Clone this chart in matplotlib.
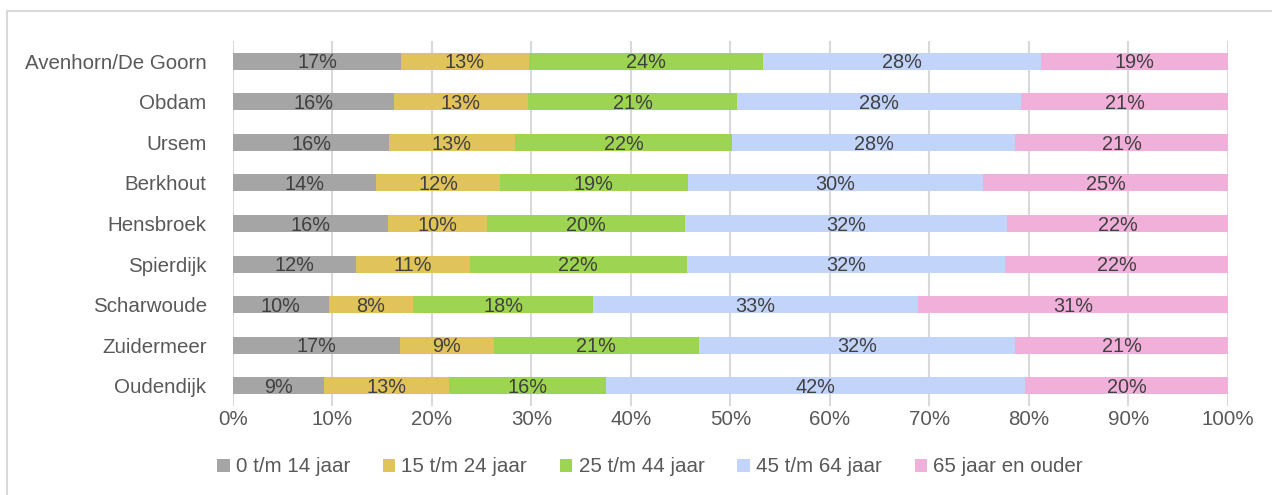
import matplotlib
matplotlib.use("Agg")
import matplotlib.pyplot as plt
from matplotlib.patches import Patch
from matplotlib.lines import Line2D
import numpy as np

plt.rcParams['font.family'] = ['Liberation Sans', 'DejaVu Sans']

categories = ["Avenhorn/De Goorn", "Obdam", "Ursem", "Berkhout", "Hensbroek",
              "Spierdijk", "Scharwoude", "Zuidermeer", "Oudendijk"]
series_names = ["0 t/m 14 jaar", "15 t/m 24 jaar", "25 t/m 44 jaar",
                "45 t/m 64 jaar", "65 jaar en ouder"]
age_0_14 = [16.9, 16.2, 15.7, 14.4, 15.6, 12.4, 9.6, 16.8, 9.1]
age_15_24 = [12.8, 13.4, 12.6, 12.4, 9.9, 11.4, 8.5, 9.4, 12.6]
age_25_44 = [23.6, 21.1, 21.9, 18.9, 19.9, 21.8, 18.1, 20.6, 15.8]
age_45_64 = [27.9, 28.5, 28.4, 29.7, 32.4, 32.0, 32.6, 31.8, 42.1]
age_65_plus = [18.8, 20.8, 21.4, 24.6, 22.2, 22.4, 31.2, 21.4, 20.4]
x_ticks = [0, 10, 20, 30, 40, 50, 60, 70, 80, 90, 100]
x_tick_labels = ["0%", "10%", "20%", "30%", "40%", "50%", "60%", "70%", "80%", "90%", "100%"]

series = [age_0_14, age_15_24, age_25_44, age_45_64, age_65_plus]
colors = ["#A5A5A5", "#E0C35A", "#9DD451", "#C2D4FA", "#F0B0DA"]

W, H = 1272, 495
fig = plt.figure(figsize=(W / 100, H / 100), dpi=100)
fig.patch.set_facecolor("white")

# outer border (top and left visible)
fig.add_artist(Line2D([7 / W, 1.0], [1 - 11 / H, 1 - 11 / H], color="#D9D9D9", lw=1.5))
fig.add_artist(Line2D([7 / W, 7 / W], [1 - 11 / H, 0], color="#D9D9D9", lw=1.5))

ax = fig.add_axes([233 / W, 1 - 406 / H, (1228 - 233) / W, (406 - 41) / H])
y = np.arange(len(categories))
left = np.zeros(len(categories))
for vals, c, name in zip(series, colors, series_names):
    vals = np.array(vals)
    ax.barh(y, vals, left=left, height=0.42, color=c, label=name, zorder=3)
    for yi, l, v in zip(y, left, vals):
        ax.text(l + v / 2, yi + 0.04, f"{v:.0f}%", ha="center", va="center",
                fontsize=14.3, color="#404040", zorder=4)
    left += vals

ax.set_xlim(0, 100)
ax.set_ylim(len(categories) - 0.5, -0.5)
ax.set_yticks(y)
ax.set_yticklabels(categories, fontsize=14.8, color="#595959")
ax.set_xticks(x_ticks)
ax.set_xticklabels(x_tick_labels, fontsize=14.8, color="#595959")
ax.tick_params(axis="both", length=0)
ax.tick_params(axis="y", pad=19)
ax.tick_params(axis="x", pad=3)
ax.grid(axis="x", color="#D9D9D9", lw=1.5, zorder=0)
for s in ax.spines.values():
    s.set_visible(False)

handles = [Patch(facecolor=c, edgecolor="none") for c in colors]
fig.legend(handles, series_names, loc="center", bbox_to_anchor=(650 / W, 1 - 467 / H),
           ncol=5, frameon=False, fontsize=14.8, handlelength=0.6, handleheight=0.6,
           handletextpad=0.3, columnspacing=1.6, labelcolor="#595959")

fig.savefig("out.png", dpi=100, facecolor="white")
